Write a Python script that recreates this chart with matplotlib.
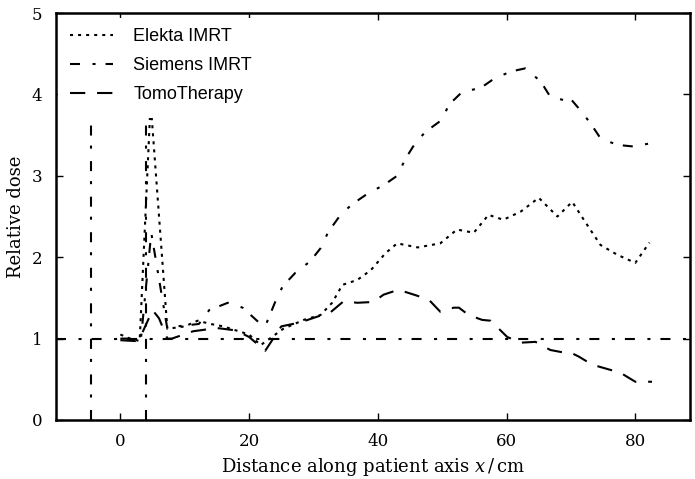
import matplotlib
matplotlib.use("Agg")
import matplotlib.pyplot as plt
from matplotlib.patches import Rectangle

plt.rcParams['lines.scale_dashes'] = False
plt.rcParams['mathtext.fontset'] = 'dejavuserif'

# ---- data ----
elekta_x = [0, 1.5, 3, 4.7, 7.3, 10, 12, 14, 16, 18, 20, 21.8, 25.3, 28.5, 31.1, 32.9, 34.5, 36.8,
            38.9, 41.2, 43, 46.2, 49.7, 52.3, 54.9, 57.2, 59.5, 62.2, 65, 67.9, 70.2, 72, 73.5,
            74.6, 77.2, 80, 82.2]
elekta_y = [1.05, 1.0, 0.97, 3.9, 1.12, 1.15, 1.22, 1.18, 1.15, 1.1, 1.05, 0.92, 1.12, 1.23, 1.29,
            1.44, 1.66, 1.72, 1.84, 2.05, 2.17, 2.12, 2.17, 2.34, 2.3, 2.52, 2.46, 2.56, 2.73, 2.5,
            2.68, 2.46, 2.28, 2.15, 2.03, 1.93, 2.18]

siemens_x = [0, 2, 3.2, 4.8, 7.3, 8.8, 12.2, 13.8, 16.7, 19, 21.5, 22.5, 24, 25.2, 27.2, 29.5, 31.1,
             32.3, 34.2, 36, 38.4, 41, 43, 44.3, 45.8, 47.4, 50, 51, 53.1, 56, 58, 60.6, 62.9,
             65.3, 66.8, 68.9, 69.9, 71.2, 73, 74.6, 77.2, 79.7, 82.4]
siemens_y = [1.0, 1.0, 1.0, 2.3, 1.12, 1.15, 1.18, 1.35, 1.44, 1.38, 1.2, 1.15, 1.44, 1.64, 1.81,
             1.95, 2.11, 2.31, 2.52, 2.65, 2.78, 2.89, 3.0, 3.21, 3.4, 3.54, 3.69, 3.87, 4.03,
             4.08, 4.19, 4.28, 4.32, 4.16, 3.97, 3.93, 3.95, 3.83, 3.65, 3.46, 3.38, 3.36, 3.40]

tomo_x = [0, 2.3, 3, 5, 6, 7.3, 8, 11.3, 15, 18, 20, 22.5, 25, 28, 30.6, 32.6, 34.7, 36.8, 39.3,
          40.9, 43.2, 45.6, 47.9, 49.7, 51.8, 52.6, 54.1, 56.2, 57.5, 58.3, 60.1, 62.2, 64.5,
          66.8, 68.8, 69.9, 71.2, 73.3, 77.7, 80, 82.6]
tomo_y = [0.98, 0.97, 1.0, 1.35, 1.25, 1.0, 1.0, 1.09, 1.13, 1.1, 1.02, 0.85, 1.15, 1.2, 1.27,
          1.32, 1.46, 1.44, 1.45, 1.54, 1.6, 1.54, 1.48, 1.33, 1.38, 1.38, 1.29, 1.23, 1.22,
          1.16, 1.02, 0.95, 0.96, 0.86, 0.83, 0.83, 0.78, 0.68, 0.58, 0.47, 0.47]

ref_level = 1.0
ref_x = [-4.5, 4.0]

series_labels = ["Elekta IMRT", "Siemens IMRT", "TomoTherapy"]
xticks = [0, 20, 40, 60, 80]
yticks = [0, 1, 2, 3, 4, 5]

# ---- styles ----
dot_ls = (0, (2.2, 3.6))
dashdot_ls = (0, (7.2, 9.0, 2.2, 7.2))
dash_ls = (0, (11, 8.5))
lw = 1.5

W, H = 695, 479
fig = plt.figure(figsize=(W/100, H/100), dpi=100)
ax_l, ax_r, ax_t, ax_b = 56, 690, 13, 420
ax = fig.add_axes([ax_l/W, 1-ax_b/H, (ax_r-ax_l)/W, (ax_b-ax_t)/H])

serif = ['DejaVu Serif']
sans = ['Liberation Sans', 'DejaVu Sans']

ax.axhline(ref_level, color='k', lw=lw, ls=dashdot_ls, zorder=1)
for xv in ref_x:
    ax.axvline(xv, color='k', lw=lw, ls=dashdot_ls, zorder=1)

ax.plot(elekta_x, elekta_y, color='k', lw=lw, ls=dot_ls, label=series_labels[0], zorder=2)
ax.plot(siemens_x, siemens_y, color='k', lw=lw, ls=dashdot_ls, label=series_labels[1], zorder=2)
ax.plot(tomo_x, tomo_y, color='k', lw=lw, ls=dash_ls, label=series_labels[2], zorder=2)

ax.set_xlim(-10, 88.5)
ax.set_ylim(0, 5)
ax.set_xticks(xticks)
ax.set_yticks(yticks)
ax.tick_params(direction='in', top=True, right=True, length=5, width=1.0,
               labelsize=12)
ax.tick_params(axis='x', pad=9)
ax.tick_params(axis='y', pad=10)
for lab in ax.get_xticklabels() + ax.get_yticklabels():
    lab.set_family(serif)
for sp in ax.spines.values():
    sp.set_linewidth(1.8)
    sp.set_zorder(6)

ax.set_xlabel(r"Distance along patient axis $x\,/\,$cm", fontsize=13, family=serif, labelpad=5)
ax.set_ylabel("Relative dose", fontsize=13, family=serif, labelpad=5)

# white background behind the legend (covers the lines beneath it)
axw, axh = ax_r - ax_l, ax_b - ax_t
ax.add_patch(Rectangle((2/axw, (ax_b-118)/axh), (255-ax_l)/axw, (118-18)/axh,
                       transform=ax.transAxes, facecolor='white', edgecolor='none',
                       zorder=2.4))

leg = ax.legend(loc='upper left', frameon=False, prop={'family': sans, 'size': 13},
                handlelength=2.4, handletextpad=1.1, labelspacing=0.66,
                borderpad=0.0, borderaxespad=0.0,
                bbox_to_anchor=((70-ax_l)/axw, (ax_b-28)/axh))
leg.set_zorder(5)

fig.savefig("out.png", dpi=100)
